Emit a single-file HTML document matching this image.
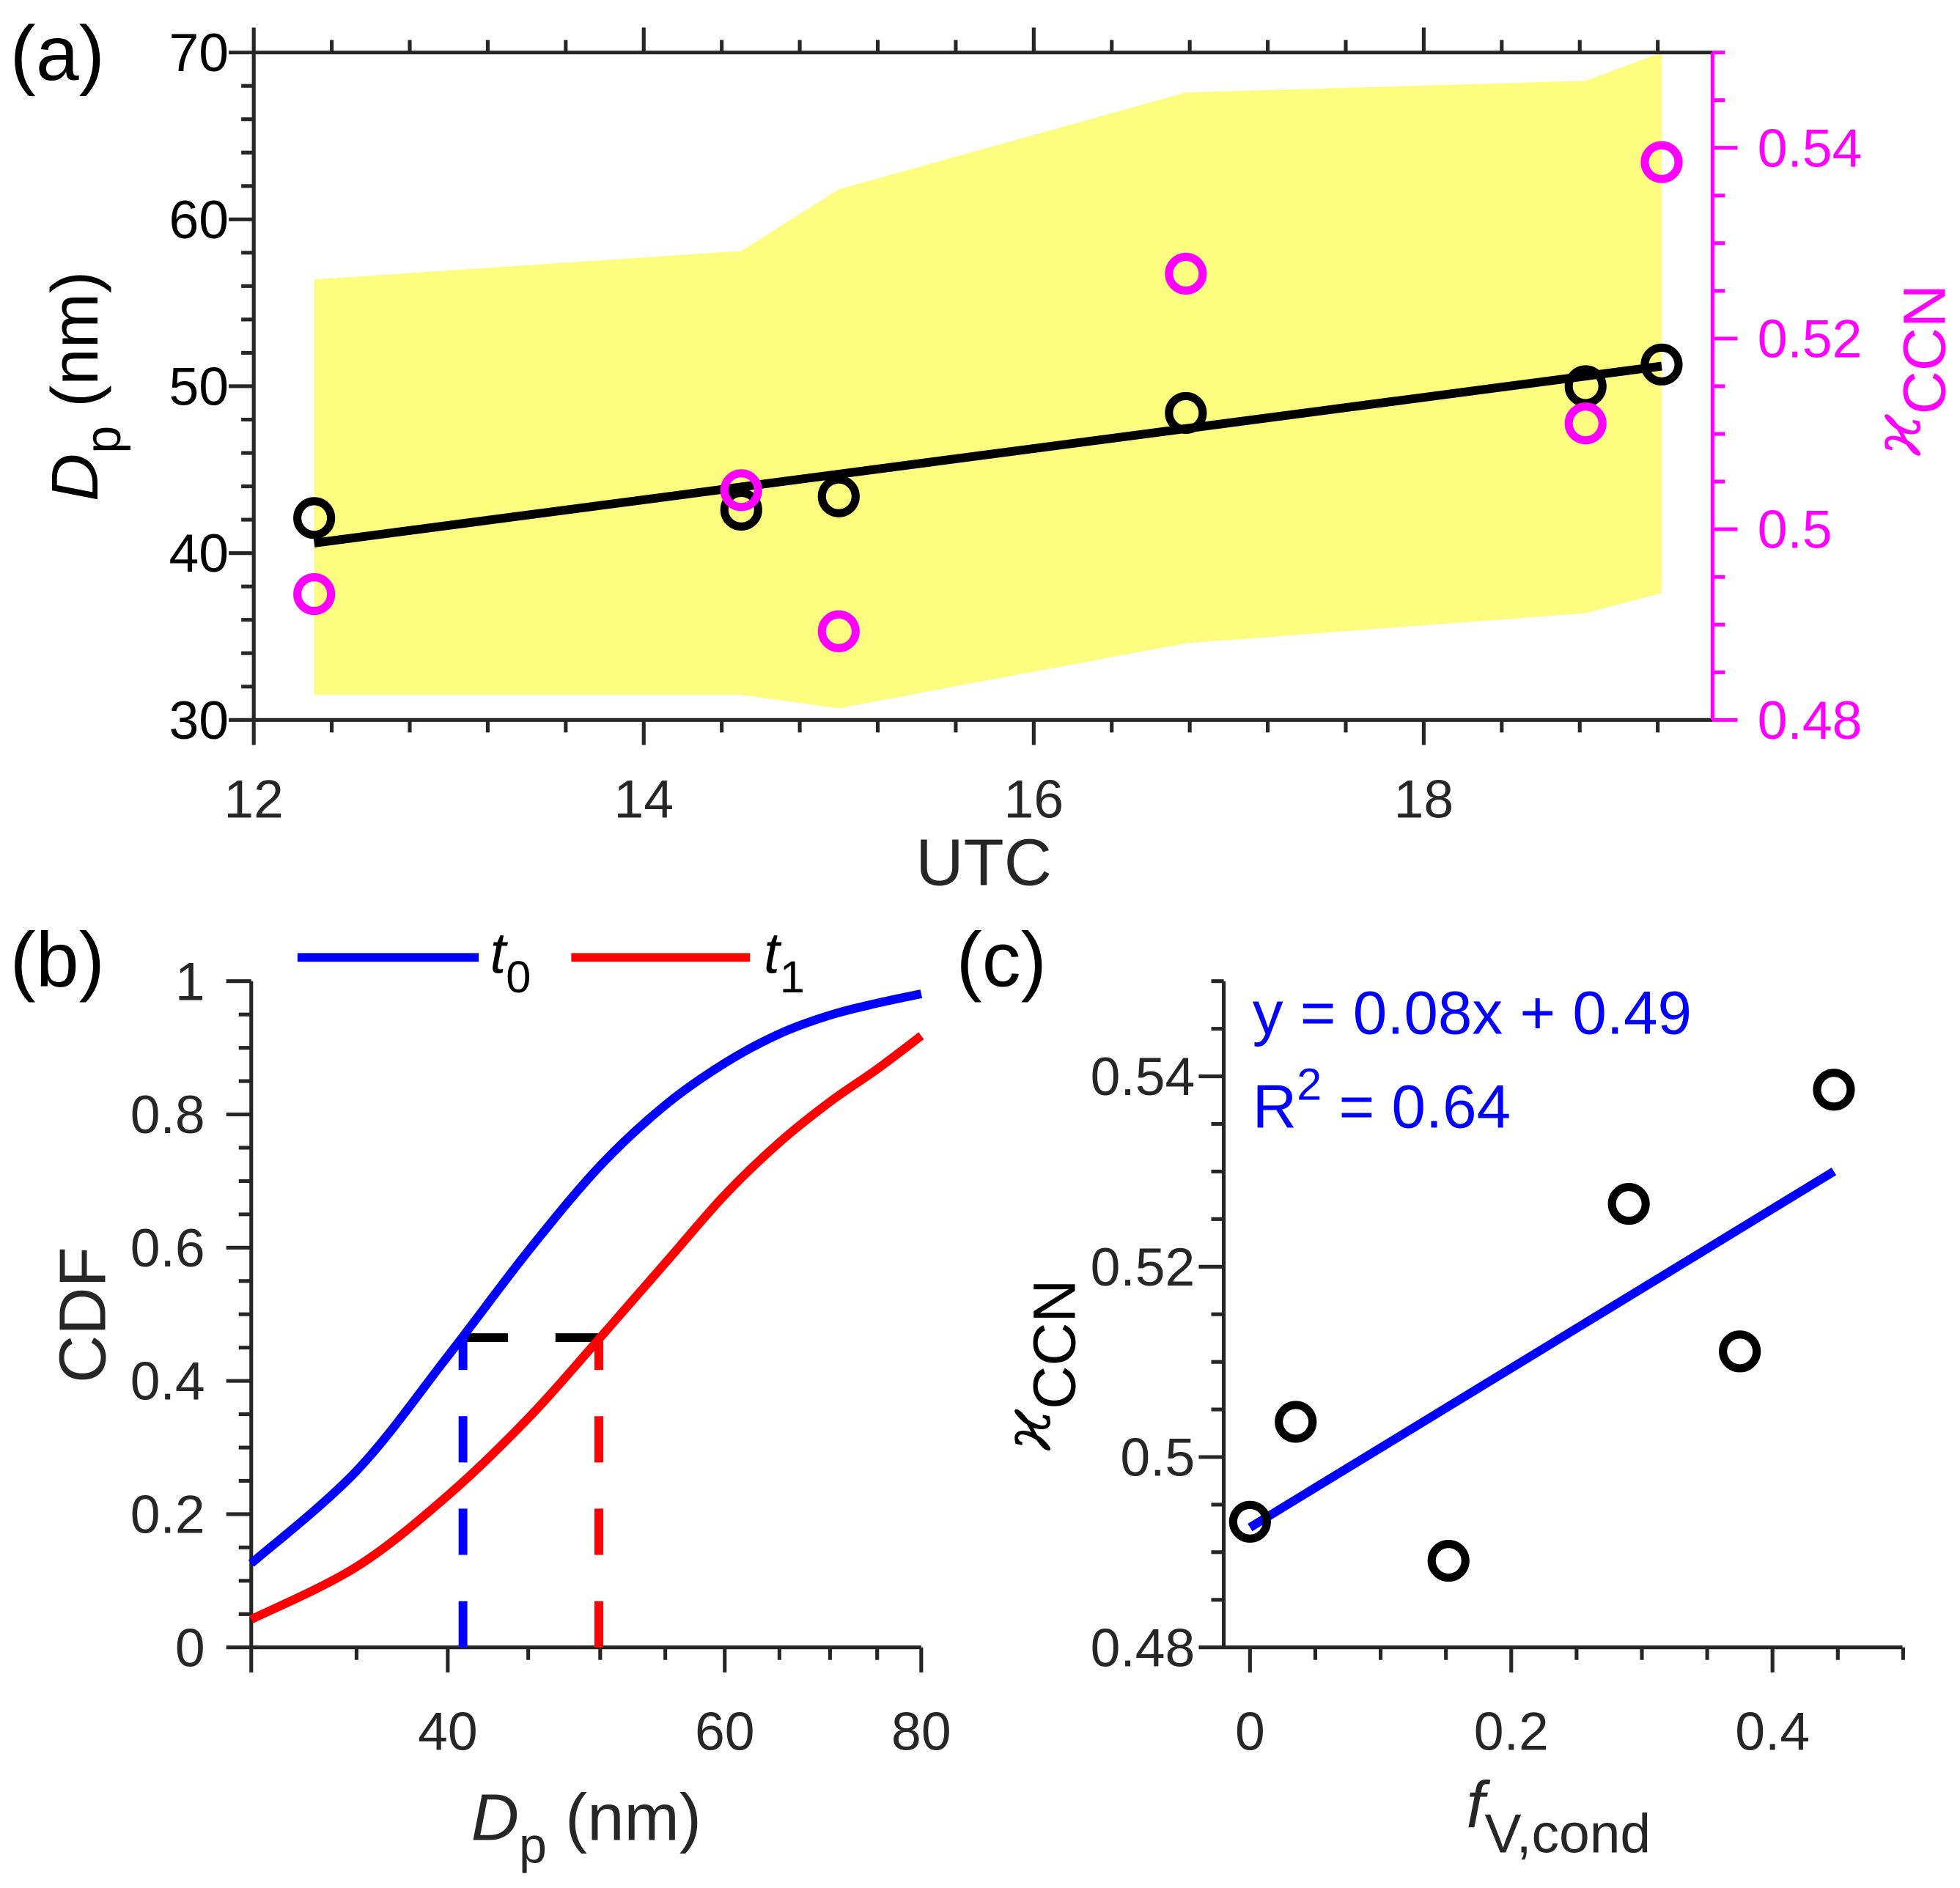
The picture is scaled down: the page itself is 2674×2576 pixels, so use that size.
<!DOCTYPE html>
<html><head><meta charset="utf-8"><style>
html,body{margin:0;padding:0;background:#fff}
svg{display:block}
text{font-family:"Liberation Sans",Arial,sans-serif}
</style></head><body>
<svg id="fig" xmlns="http://www.w3.org/2000/svg" width="2674" height="2576" viewBox="0 0 1568 1510.5" preserveAspectRatio="none"></svg>
<script>
// ---- Panel (a) data ----
const utcTimes = [12.31, 14.5, 15.0, 16.78, 18.83, 19.22];
const dpValues = [42.1, 42.6, 43.4, 48.4, 50.0, 51.3];
const kappaValues = [0.4932, 0.5041, 0.4893, 0.5268, 0.5111, 0.5385];
const bandUpper = [56.4, 58.1, 61.8, 67.6, 68.3, 70.0];
const bandLower = [31.5, 31.5, 30.7, 34.6, 36.4, 37.6];
const fitA = [1.534, 21.72];
const aXTicks = [12, 14, 16, 18];
const aYTicks = [30, 40, 50, 60, 70];
const aKTicks = [0.48, 0.5, 0.52, 0.54];
// ---- Panel (b) data ----
const cdfSizes = [30, 35, 40, 45, 50, 55, 60, 65, 70, 75, 80];
const cdfT0 = [0.126, 0.265, 0.437, 0.595, 0.723, 0.814, 0.877, 0.921, 0.949, 0.967, 0.981];
const cdfT1 = [0.042, 0.121, 0.228, 0.344, 0.465, 0.577, 0.679, 0.758, 0.819, 0.868, 0.918];
const markD0 = 40.9, markD1 = 49.9, markCdf = 0.465;
const bXTicks = [40, 60, 80];
const bYTicks = [0, 0.2, 0.4, 0.6, 0.8, 1];
// ---- Panel (c) data ----
const fVcond = [0.0, 0.035, 0.152, 0.29, 0.375, 0.447];
const kappaC = [0.4932, 0.5037, 0.4891, 0.5266, 0.5111, 0.5386];
const fitC = [0.0837, 0.4926];
const cXTicks = [0, 0.2, 0.4];
const cYTicks = [0.48, 0.5, 0.52, 0.54];

const NS = "http://www.w3.org/2000/svg";
const svg = document.getElementById('fig');
const AX = '#262626';
const TF = 43, TT = 53, PF = 62;
function el(tag, attrs, parent, txt) {
  const e = document.createElementNS(NS, tag);
  for (const k in attrs) e.setAttribute(k, attrs[k]);
  if (txt !== undefined) e.textContent = txt;
  (parent || svg).appendChild(e);
  return e;
}
function grp(name) {
  const g = el('g', {});
  
  
  return g;
}
function fmt(v) { return String(+v.toFixed(3)); }
function smoothPath(pts) {
  let d = 'M' + pts[0][0] + ',' + pts[0][1];
  for (let i = 0; i < pts.length - 1; i++) {
    const p0 = pts[i - 1] || pts[i], p1 = pts[i], p2 = pts[i + 1], p3 = pts[i + 2] || p2;
    const c1 = [p1[0] + (p2[0] - p0[0]) / 6, p1[1] + (p2[1] - p0[1]) / 6];
    const c2 = [p2[0] - (p3[0] - p1[0]) / 6, p2[1] - (p3[1] - p1[1]) / 6];
    d += ' C' + c1 + ' ' + c2 + ' ' + p2;
  }
  return d;
}

// ===== Panel (a) =====
(function(){
  const L = 203, R = 1370, T = 42, B = 576;
  const xmin = 12, pxPerHr = 156;
  const xA = v => L + (v - xmin) * pxPerHr;
  const yA = v => B - (v - 30) / 40 * (B - T);
  const yK = v => B - (v - 0.48) / 0.07 * (B - T);
  const g = grp('panel-a');
  let pts = utcTimes.map((t, i) => xA(t) + ',' + yA(bandUpper[i]));
  for (let i = utcTimes.length - 1; i >= 0; i--) pts.push(xA(utcTimes[i]) + ',' + yA(bandLower[i]));
  const band = el('polygon', {points: pts.join(' '), fill: '#fdfd7f', stroke: 'none'}, g);
  
  
  const axl = el('line', {x1: L, y1: T, x2: L, y2: B, stroke: AX, 'stroke-width': 3}, g);
   
  const axb = el('line', {x1: L, y1: B, x2: R, y2: B, stroke: AX, 'stroke-width': 3}, g);
   
  const axt = el('line', {x1: L, y1: T, x2: R, y2: T, stroke: AX, 'stroke-width': 3}, g);
   
  const axr = el('line', {x1: R, y1: T, x2: R, y2: B, stroke: '#ff00ff', 'stroke-width': 3}, g);
   
  for (let i = 0; i * 0.4 <= 7.5 + 1e-9; i++) {
    const v = 12 + i * 0.4, x = xA(v);
    if (x > R - 2) break;
    const maj = Math.abs(v - Math.round(v)) < 1e-6 && Math.round(v) % 2 === 0;
    const len = maj ? 20 : 10;
    el('line', {x1: x, y1: B, x2: x, y2: B + len, stroke: AX, 'stroke-width': 3}, g);
    el('line', {x1: x, y1: T, x2: x, y2: T - len, stroke: AX, 'stroke-width': 3}, g);
  }
  aXTicks.forEach(v => {
    const t = el('text', {x: xA(v), y: 654, 'font-size': TF, 'text-anchor': 'middle', fill: AX}, g, v);
     
  });
  for (let v = 30; v <= 70; v += 2) {
    const maj = v % 10 === 0;
    el('line', {x1: L, y1: yA(v), x2: L - (maj ? 20 : 10), y2: yA(v), stroke: AX, 'stroke-width': 3}, g);
  }
  aYTicks.forEach(v => {
    const t = el('text', {x: 183, y: yA(v) + 15, 'font-size': TF, 'text-anchor': 'end', fill: '#000'}, g, v);
     
  });
  for (let i = 0; i <= 14; i++) {
    const v = 0.48 + i * 0.005;
    const maj = i % 4 === 0;
    el('line', {x1: R, y1: yK(v), x2: R + (maj ? 20 : 10), y2: yK(v), stroke: '#ff00ff', 'stroke-width': 3}, g);
  }
  aKTicks.forEach(v => {
    const t = el('text', {x: 1406, y: yK(v) + 15, 'font-size': TF, 'text-anchor': 'start', fill: '#ff00ff'}, g, fmt(v));
     
  });
  const f = t => fitA[0] * t + fitA[1];
  const t0 = utcTimes[0], t1 = utcTimes[utcTimes.length - 1];
  const fl = el('line', {x1: xA(t0), y1: yA(f(t0)), x2: xA(t1), y2: yA(f(t1)), stroke: '#000', 'stroke-width': 7}, g);
   
  utcTimes.forEach((t, i) => {
    const c = el('circle', {cx: xA(t), cy: yA(dpValues[i]), r: 13.5, fill: 'none', stroke: '#000', 'stroke-width': 6.5}, g);
     
  });
  utcTimes.forEach((t, i) => {
    const c = el('circle', {cx: xA(t), cy: yK(kappaValues[i]), r: 13.5, fill: 'none', stroke: '#ff00ff', 'stroke-width': 6.5}, g);
     
  });
  const xl = el('text', {x: 787, y: 708, 'font-size': TT, 'text-anchor': 'middle', fill: AX}, g, 'UTC');
   
  const yl = el('text', {transform: 'translate(78,309) rotate(-90)', 'font-size': TT, 'text-anchor': 'middle', fill: '#000'}, g);
   
  el('tspan', {'font-style': 'italic'}, yl, 'D');
  el('tspan', {dy: 18, 'font-size': 40}, yl, 'p');
  el('tspan', {dy: -18}, yl, ' (nm)');
  const rl = el('text', {transform: 'translate(1536,296) rotate(-90)', 'font-size': TT, 'text-anchor': 'middle', fill: '#ff00ff'}, g);
   
  el('tspan', {'font-style': 'italic', 'font-family': 'DejaVu Serif, serif'}, rl, 'ϰ');
  el('tspan', {dy: 20, 'font-size': 48}, rl, 'CCN');
  const pl = el('text', {x: 8, y: 64, 'font-size': PF, fill: '#000'}, g, '(a)');
   
})();

// ===== Panel (b) =====
(function(){
  const L = 201, R = 737, T = 785, B = 1318;
  const lmin = Math.log10(30), lmax = Math.log10(80);
  const xB = d => L + (Math.log10(d) - lmin) / (lmax - lmin) * (R - L);
  const yB = v => B - v * (B - T);
  const g = grp('panel-b');
  const axl = el('line', {x1: L, y1: T, x2: L, y2: B, stroke: AX, 'stroke-width': 3}, g);
   
  const axb = el('line', {x1: L, y1: B, x2: R, y2: B, stroke: AX, 'stroke-width': 3}, g);
   
  for (let d = 30; d <= 80; d += 5) {
    const maj = d % 20 === 0 || d === 30;
    el('line', {x1: xB(d), y1: B, x2: xB(d), y2: B + (maj ? 20 : 10), stroke: AX, 'stroke-width': 3}, g);
  }
  bXTicks.forEach(d => {
    const t = el('text', {x: xB(d), y: 1400, 'font-size': TF, 'text-anchor': 'middle', fill: AX}, g, d);
     
  });
  for (let i = 0; i <= 20; i++) {
    const v = i * 0.05, maj = i % 4 === 0;
    el('line', {x1: L, y1: yB(v), x2: L - (maj ? 20 : 10), y2: yB(v), stroke: AX, 'stroke-width': 3}, g);
  }
  bYTicks.forEach(v => {
    const t = el('text', {x: 164, y: yB(v) + 15, 'font-size': TF, 'text-anchor': 'end', fill: AX}, g, fmt(v));
     
  });
  const dh = el('line', {x1: xB(markD0), y1: yB(markCdf), x2: xB(markD1), y2: yB(markCdf), stroke: '#000', 'stroke-width': 7, 'stroke-dasharray': '36 38'}, g);
   
  const d0 = el('line', {x1: xB(markD0), y1: B, x2: xB(markD0), y2: yB(markCdf), stroke: '#0000ff', 'stroke-width': 7, 'stroke-dasharray': '37 37'}, g);
   
  const d1 = el('line', {x1: xB(markD1), y1: B, x2: xB(markD1), y2: yB(markCdf), stroke: '#ff0000', 'stroke-width': 7, 'stroke-dasharray': '37 37'}, g);
   
  const c1 = el('path', {d: smoothPath(cdfSizes.map((d, i) => [xB(d), yB(cdfT1[i])])), fill: 'none', stroke: '#ff0000', 'stroke-width': 7}, g);
   
  const c0 = el('path', {d: smoothPath(cdfSizes.map((d, i) => [xB(d), yB(cdfT0[i])])), fill: 'none', stroke: '#0000ff', 'stroke-width': 7}, g);
   
  const lg = el('g', {}, g);
   
  el('line', {x1: 238, y1: 766, x2: 383, y2: 766, stroke: '#0000ff', 'stroke-width': 7}, lg);
  const lt0 = el('text', {x: 392, y: 778, 'font-size': 46, fill: '#000'}, lg);
   
  el('tspan', {'font-style': 'italic'}, lt0, 't');
  el('tspan', {dy: 16, 'font-size': 36}, lt0, '0');
  el('line', {x1: 457, y1: 766, x2: 600, y2: 766, stroke: '#ff0000', 'stroke-width': 7}, lg);
  const lt1 = el('text', {x: 611, y: 778, 'font-size': 46, fill: '#000'}, lg);
   
  el('tspan', {'font-style': 'italic'}, lt1, 't');
  el('tspan', {dy: 16, 'font-size': 36}, lt1, '1');
  const xl = el('text', {x: 469, y: 1472, 'font-size': TT, 'text-anchor': 'middle', fill: AX}, g);
   
  el('tspan', {'font-style': 'italic'}, xl, 'D');
  el('tspan', {dy: 18, 'font-size': 40}, xl, 'p');
  el('tspan', {dy: -18}, xl, ' (nm)');
  const yl = el('text', {transform: 'translate(84,1052) rotate(-90)', 'font-size': TT, 'text-anchor': 'middle', fill: AX}, g, 'CDF');
   
  const pl = el('text', {x: 8, y: 789, 'font-size': PF, fill: '#000'}, g, '(b)');
   
})();

// ===== Panel (c) =====
(function(){
  const L = 979, R = 1522, T = 785, B = 1318;
  const x0 = 1000, pxPerUnit = 1045;
  const xC = v => x0 + v * pxPerUnit;
  const yC = v => B - (v - 0.48) / 0.07 * (B - T);
  const g = grp('panel-c');
  const axl = el('line', {x1: L, y1: T, x2: L, y2: B, stroke: AX, 'stroke-width': 3}, g);
   
  const axb = el('line', {x1: L, y1: B, x2: R, y2: B, stroke: AX, 'stroke-width': 3}, g);
   
  for (let i = 0; i <= 10; i++) {
    const v = i * 0.05, maj = i % 4 === 0;
    el('line', {x1: xC(v), y1: B, x2: xC(v), y2: B + (maj ? 20 : 10), stroke: AX, 'stroke-width': 3}, g);
  }
  cXTicks.forEach(v => {
    const t = el('text', {x: xC(v), y: 1400, 'font-size': TF, 'text-anchor': 'middle', fill: AX}, g, fmt(v));
     
  });
  for (let i = 0; i <= 14; i++) {
    const v = 0.48 + i * 0.005, maj = i % 4 === 0;
    el('line', {x1: L, y1: yC(v), x2: L - (maj ? 20 : 10), y2: yC(v), stroke: AX, 'stroke-width': 3}, g);
  }
  cYTicks.forEach(v => {
    const t = el('text', {x: 956, y: yC(v) + 15, 'font-size': TF, 'text-anchor': 'end', fill: AX}, g, fmt(v));
     
  });
  const fx0 = fVcond[0], fx1 = fVcond[fVcond.length - 1];
  const fl = el('line', {x1: xC(fx0), y1: yC(fitC[0] * fx0 + fitC[1]), x2: xC(fx1), y2: yC(fitC[0] * fx1 + fitC[1]), stroke: '#0000ff', 'stroke-width': 7}, g);
   
  fVcond.forEach((f, i) => {
    const c = el('circle', {cx: xC(f), cy: yC(kappaC[i]), r: 13.5, fill: 'none', stroke: '#000', 'stroke-width': 6.5}, g);
     
  });
  const eq = el('text', {x: 1002, y: 827, 'font-size': 49, fill: '#0000ff'}, g, 'y = 0.08x + 0.49');
   
  const r2 = el('text', {x: 1002, y: 902, 'font-size': 49, fill: '#0000ff'}, g);
   
  el('tspan', {}, r2, 'R');
  el('tspan', {dy: -22, 'font-size': 36}, r2, '2');
  el('tspan', {dy: 22}, r2, ' = 0.64');
  const yl = el('text', {transform: 'translate(840,1092) rotate(-90)', 'font-size': TT, 'text-anchor': 'middle', fill: '#000'}, g);
   
  el('tspan', {'font-style': 'italic', 'font-family': 'DejaVu Serif, serif'}, yl, 'ϰ');
  el('tspan', {dy: 20, 'font-size': 48}, yl, 'CCN');
  const xl = el('text', {x: 1173, y: 1462, 'font-size': TT, 'text-anchor': 'start', fill: AX}, g);
   
  el('tspan', {'font-style': 'italic'}, xl, 'f');
  el('tspan', {dy: 20, 'font-size': 44}, xl, 'V,cond');
  const pl = el('text', {x: 765, y: 789, 'font-size': PF, fill: '#000'}, g, '(c)');
   
})();
</script>
</body></html>
